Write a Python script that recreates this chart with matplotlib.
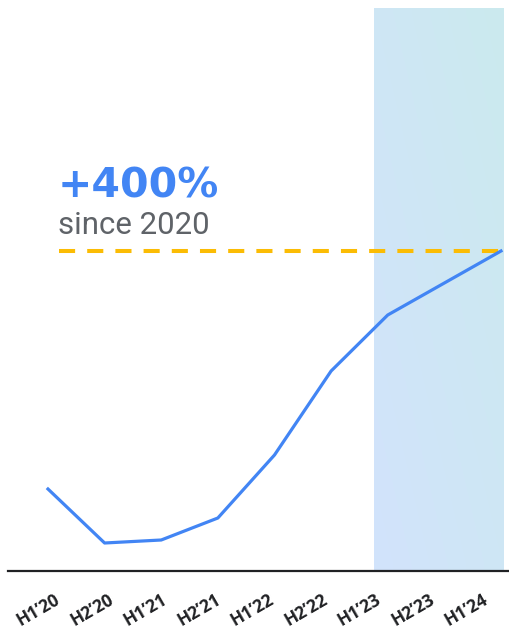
import matplotlib.pyplot as plt
import matplotlib.transforms as mtransforms
import numpy as np

periods = ["H1’20", "H2’20", "H1’21", "H2’21", "H1’22", "H2’22", "H1’23", "H2’23", "H1’24"]
growth_index = [82, 28, 31, 53, 116, 200, 256, 288, 320]
highlight_start = 5.75
highlight_end = 8.04

blue = "#4285f4"
plt.rcParams['font.family'] = ['Roboto', 'DejaVu Sans']

fig = plt.figure(figsize=(5.10, 6.31), dpi=100)
ax = fig.add_axes([8 / 510, 60 / 631, 502 / 510, 563 / 631])
x = np.arange(len(periods))

# diagonal gradient behind the recent periods
c_bl = np.array([0xd2, 0xe3, 0xfc]) / 255
c_tr = np.array([0xcb, 0xea, 0xee]) / 255
u, v = np.meshgrid(np.linspace(0, 1, 50), np.linspace(0, 1, 50))
t = ((u + v) / 2)[..., None]
grad = c_bl * (1 - t) + c_tr * t
ax.imshow(grad, extent=[highlight_start, highlight_end, 0, 563], origin='lower',
          aspect='auto', zorder=0, interpolation='bilinear')

ax.plot(x, growth_index, color=blue, lw=2.3, zorder=3)
ax.axhline(growth_index[-1], xmin=0.1016, xmax=1, color="#fbbc04",
           lw=2.9, ls=(0, (4, 3)), zorder=2)

ax.text(0.17, 373, "+400%", color=blue, fontsize=29.5, fontweight='bold',
        family='DejaVu Sans', va='baseline')
ax.text(0.17, 337, "since 2020", color="#5f6368", fontsize=22.5, va='baseline')

ax.set_xlim(-0.706, 8.159)
ax.set_ylim(0, 563)
for s in ['top', 'right', 'left']:
    ax.spines[s].set_visible(False)
ax.spines['bottom'].set_color('#202124')
ax.spines['bottom'].set_linewidth(1.6)
ax.set_yticks([])
ax.set_xticks([])

# rotated period labels, spaced a little tighter than the points
lbl_tr = mtransforms.blended_transform_factory(ax.transData, ax.transAxes)
for i, p in enumerate(periods):
    ax.text(-0.168 + i * 0.9448, -0.0693, p, transform=lbl_tr, rotation=30,
            rotation_mode='anchor', ha='center', va='center', fontsize=12.5,
            fontweight='bold', family='Open Sans', color='#202124')

fig.savefig("out.png", dpi=100)
